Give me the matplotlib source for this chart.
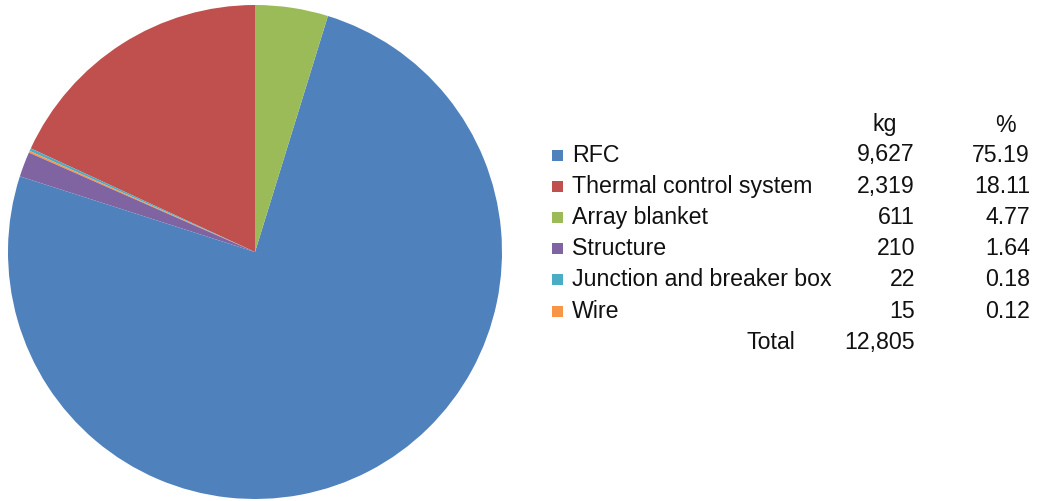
import matplotlib
matplotlib.use("Agg")
import matplotlib.pyplot as plt
from matplotlib.patches import Rectangle

plt.rcParams["font.family"] = ["Liberation Sans", "DejaVu Sans"]

# Mass breakdown by component
components = ["RFC", "Thermal control system", "Array blanket", "Structure",
              "Junction and breaker box", "Wire"]
mass_kg = [9627, 2319, 611, 210, 22, 15]
percent = [75.19, 18.11, 4.77, 1.64, 0.18, 0.12]
total_kg = 12805
colors = ["#4F81BD", "#C0504D", "#9BBB59", "#8064A2", "#4BACC6", "#F79646"]

# Slice order around the pie (counter-clockwise from 12 o'clock)
pie_order = [1, 4, 5, 3, 0, 2]

W, H = 1037, 501
fig = plt.figure(figsize=(W / 100, H / 100), dpi=100)

# Pie axes placed in pixel terms
cx, cy, r = 255, 252, 247
ax = fig.add_axes([(cx - r) / W, (H - cy - r) / H, 2 * r / W, 2 * r / H])
ax.pie([percent[i] for i in pie_order],
       colors=[colors[i] for i in pie_order],
       startangle=90, counterclock=True, radius=1.0,
       wedgeprops=dict(linewidth=0))
ax.set_xlim(-1, 1)
ax.set_ylim(-1, 1)
ax.set_aspect("equal")
ax.axis("off")

# Legend table drawn in pixel coordinates
def px(x, y):
    return x / W, (H - y) / H

fs = 16.7
tc = "#111111"
fig.text(*px(885, 125), "kg", fontsize=fs, color=tc, ha="center", va="center")
fig.text(*px(1005, 125), "%", fontsize=fs, color=tc, ha="center", va="center")

row_y0, row_dy = 155, 31.2
for k, (name, kg, pc, col) in enumerate(zip(components, mass_kg, percent, colors)):
    y = row_y0 + k * row_dy
    fig.patches.append(Rectangle(px(552, y + 5.5), 11 / W, 11 / H,
                                 transform=fig.transFigure, facecolor=col,
                                 edgecolor="none"))
    fig.text(*px(572, y), name, fontsize=fs, color=tc, ha="left", va="center")
    fig.text(*px(915, y), f"{kg:,}", fontsize=fs, color=tc, ha="right", va="center")
    fig.text(*px(1030, y), f"{pc:.2f}", fontsize=fs, color=tc, ha="right", va="center")

yt = row_y0 + 6 * row_dy
fig.text(*px(795, yt), "Total", fontsize=fs, color=tc, ha="right", va="center")
fig.text(*px(915, yt), f"{total_kg:,}", fontsize=fs, color=tc, ha="right", va="center")

fig.savefig("out.png", dpi=100)
